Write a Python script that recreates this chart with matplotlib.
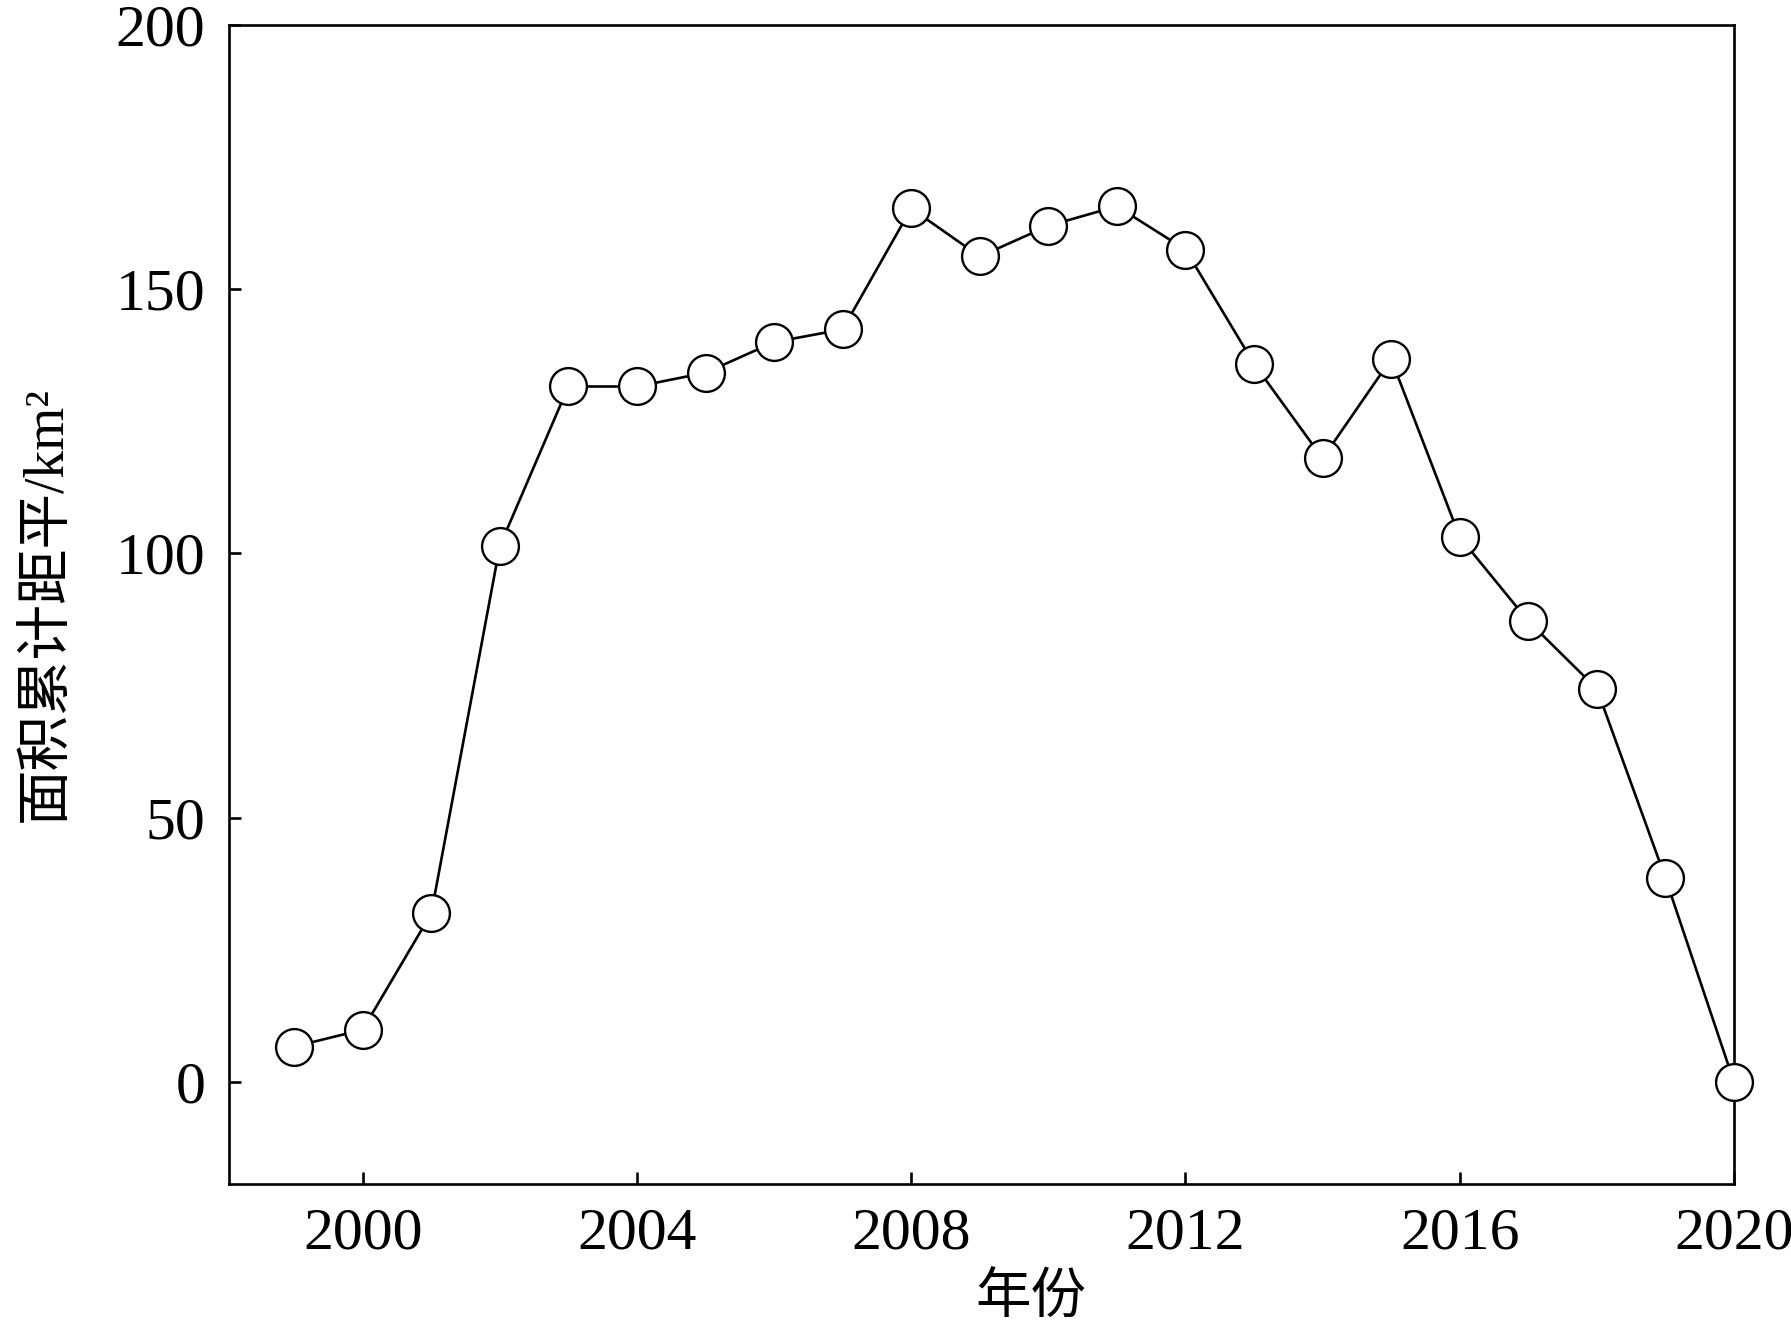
import matplotlib
matplotlib.use("Agg")
import matplotlib.pyplot as plt

years = [1999, 2000, 2001, 2002, 2003, 2004, 2005, 2006, 2007, 2008, 2009,
         2010, 2011, 2012, 2013, 2014, 2015, 2016, 2017, 2018, 2019, 2020]
values = [6.7, 9.9, 31.9, 101.4, 131.6, 131.6, 134.2, 140.0, 142.4, 165.3, 156.2,
          162.0, 165.7, 157.5, 135.9, 118.0, 136.8, 103.1, 87.2, 74.4, 38.6, 0.0]
xticks = [2000, 2004, 2008, 2012, 2016, 2020]
yticks = [0, 50, 100, 150, 200]
xlabel = "年份"
ylabel = "面积累计距平/km²"

serif = ["Liberation Serif", "DejaVu Serif"]
cjk = ["Liberation Serif", "Noto Sans CJK SC", "DejaVu Sans"]

fig = plt.figure(figsize=(17.91, 13.29), dpi=100)
ax = fig.add_axes([229 / 1791, 1 - 1184 / 1329, (1734 - 229) / 1791, (1184 - 25) / 1329])

ax.plot(years, values, color="black", linewidth=1.9, marker="o", markersize=26.5,
        markerfacecolor="white", markeredgecolor="black", markeredgewidth=1.7,
        clip_on=False, zorder=3)

ax.set_xlim(1998.05, 2020)
ax.set_ylim(-19.3, 200)
ax.set_xticks(xticks)
ax.set_yticks(yticks)
ax.tick_params(direction="in", length=8.6, width=1.9, pad=17, labelsize=43,
               top=False, right=False)
for lab in ax.get_xticklabels() + ax.get_yticklabels():
    lab.set_fontfamily(serif)
for s in ax.spines.values():
    s.set_linewidth(1.9)

ax.set_xlabel(xlabel, fontsize=40, family=cjk)
ax.xaxis.set_label_coords((1031 - 229) / 1505, -(1300 - 1184) / 1159)
ax.set_ylabel(ylabel, fontsize=40, family=cjk)
ax.yaxis.set_label_coords(-(229 - 47) / 1505, 0.5)
ax.xaxis.label.set_verticalalignment("center")
ax.yaxis.label.set_verticalalignment("center")

fig.savefig("out.png", dpi=100, facecolor="white")
